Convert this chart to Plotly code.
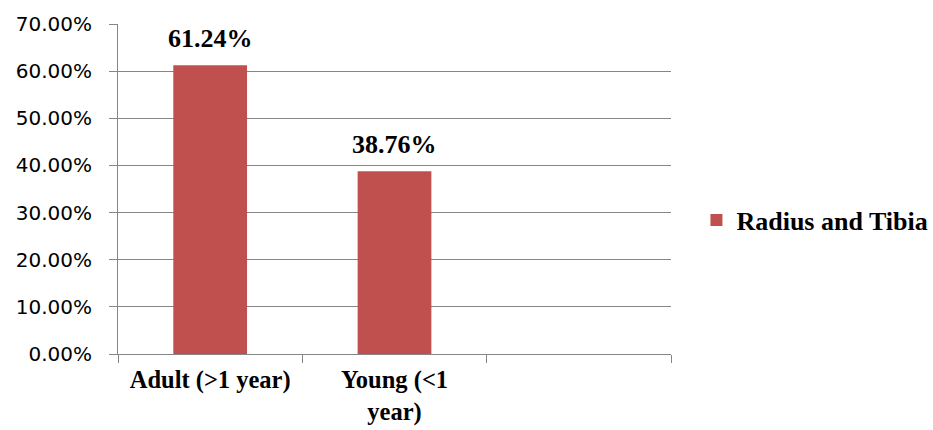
import plotly.graph_objects as go

# Share of radius and tibia samples by age group
categories = ["Adult (>1 year)", "Young (<1<br>year)"]
values = [61.24, 38.76]
series_name = "Radius and Tibia"
y_ticks = [0, 10, 20, 30, 40, 50, 60, 70]
y_tick_labels = [f"{v:.2f}%" for v in y_ticks]

bar_color = "#C0504D"
grid_color = "#868686"
serif = "Liberation Serif, Times New Roman, serif"
sans = "DejaVu Sans, Verdana, sans-serif"

fig = go.Figure()
fig.add_trace(go.Bar(
    x=categories,
    y=values,
    name=series_name,
    marker=dict(color=bar_color, line=dict(width=0)),
    showlegend=True,
))

# Value labels above each bar
for cat, val in zip(categories, values):
    fig.add_annotation(
        x=cat, y=val, text=f"{val:.2f}%",
        showarrow=False, yanchor="bottom", yshift=10,
        font=dict(family=serif, size=26, color="black", weight="bold"),
    )

fig.update_layout(
    width=933, height=430,
    margin=dict(l=118, r=262, t=24, b=76, autoexpand=False),
    paper_bgcolor="white", plot_bgcolor="white",
    bargap=0.6,
    legend=dict(
        x=1.046, y=0.406, xanchor="left", yanchor="middle",
        font=dict(family=serif, size=26, color="black", weight="bold"),
        bgcolor="rgba(0,0,0,0)",
    ),
    xaxis=dict(
        type="category",
        categoryorder="array",
        categoryarray=categories + [" "],
        range=[-0.5, 2.5],
        tickson="boundaries",
        ticks="outside", ticklen=8, tickcolor=grid_color, tickwidth=1,
        showline=True, linecolor=grid_color, linewidth=1,
        showgrid=False,
        tickfont=dict(family=serif, size=24.5, color="black", weight="bold"),
        ticklabelstandoff=4,
        automargin=False,
        fixedrange=True,
    ),
    yaxis=dict(
        range=[0, 70],
        tickvals=y_ticks,
        ticktext=y_tick_labels,
        ticks="outside", ticklen=8, tickcolor=grid_color, tickwidth=1,
        showline=True, linecolor=grid_color, linewidth=1,
        showgrid=True, gridcolor=grid_color, gridwidth=1,
        zeroline=False,
        tickfont=dict(family=sans, size=20, color="black"),
        ticklabelstandoff=13,
        automargin=False,
        fixedrange=True,
    ),
)

fig.write_html("out.html")
